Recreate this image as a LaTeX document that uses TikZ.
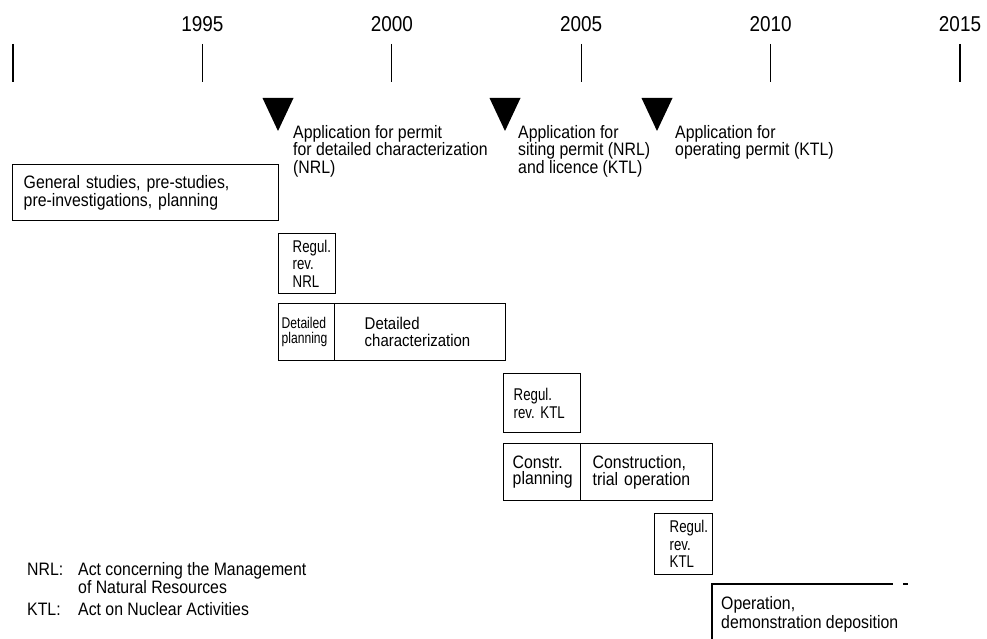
\documentclass[tikz,border=0pt]{standalone}
\usepackage{fontspec}
\setmainfont{Liberation Sans}
\newfontfamily\chartfont[FakeStretch=0.88]{Liberation Sans}
\newfontfamily\narrowfont[FakeStretch=0.78]{Liberation Sans}
\hyphenpenalty=10000
\exhyphenpenalty=10000
\hbadness=10000
\hfuzz=20pt
\frenchspacing

\begin{document}
\begin{tikzpicture}[x=1pt,y=-1pt,
  phase/.style={draw, line width=1.4pt, anchor=north west, inner xsep=0pt, inner ysep=0pt, align=left},
  maintxt/.style={font=\chartfont\fontsize{18}{16.5}\selectfont},
  smalltxt/.style={font=\narrowfont\fontsize{17}{17.5}\selectfont},
  apptxt/.style={anchor=north west, inner sep=0pt, align=left, font=\chartfont\fontsize{18}{17.5}\selectfont}]
\useasboundingbox (0,0) rectangle (987,639);

% time axis
\draw[line width=1.3pt] (13,44) -- (13,82);
\foreach \k/\yr in {1/1995,2/2000,3/2005,4/2010,5/2015}{
  \draw[line width=1.3pt] (13+189.4*\k,44) -- (13+189.4*\k,82);
  \node[anchor=base, inner sep=0pt, font=\chartfont\fontsize{21.5}{20}\selectfont] (yr\k) at (13+189.4*\k,32) {\yr};
}

% applications
\coordinate (m1) at (278,131);
\coordinate (m2) at (505,131);
\coordinate (m3) at (657,131);
\foreach \n in {1,2,3}
  \fill (m\n) -- ++(-15.5,-33) -- ++(31,0) -- cycle;
\node[apptxt] (app1) at (293,125) {Application for permit\\for detailed characterization\\(NRL)};
\node[apptxt] (app2) at (518,125) {Application for\\siting permit (NRL)\\and licence (KTL)};
\node[apptxt] (app3) at (675,125) {Application for\\operating permit (KTL)};

% phases
\node[phase, maintxt, minimum width=266pt, minimum height=56pt, text width=244pt] (general) at (12,164) {General studies, pre-studies,\\pre-investigations, planning};
\node[phase, smalltxt, minimum width=57pt, minimum height=60pt, text width=29pt] (nrlrev) at (278,233) {Regul.\\rev.\\NRL};
\node[phase, font=\narrowfont\fontsize{15.5}{15}\selectfont, minimum width=56pt, minimum height=57pt, text width=50pt] (detplan) at (278,303) {Detailed\\planning};
\node[phase, font=\chartfont\fontsize{17}{17}\selectfont, minimum width=171pt, minimum height=57pt, text width=111pt] (detchar) at (334,303) {Detailed\\characterization};
\node[phase, smalltxt, minimum width=77pt, minimum height=59pt, text width=57pt] (ktlrev) at (503,373) {Regul.\\rev. KTL};
\node[phase, maintxt, minimum width=77pt, minimum height=57pt, text width=59pt] (conplan) at (503,443) {Constr.\\planning};
\node[phase, maintxt, minimum width=132pt, minimum height=57pt, text width=108pt] (constr) at (580,443) {Construction,\\trial operation};
\node[phase, smalltxt, minimum width=58pt, minimum height=61pt, text width=28pt] (ktlrev2) at (654,513) {Regul.\\rev.\\KTL};

% operation (open box)
\coordinate (opcorner) at (712,584);
\draw[line width=1.4pt] (712,639) -- (opcorner) -- (893,584);
\draw[line width=1.4pt] (903,584) -- (908,584);
\node[apptxt, font=\chartfont\fontsize{18}{19.5}\selectfont] (oper) at (721,596) {Operation,\\demonstration deposition};

% legend
\node[anchor=base west, inner sep=0pt, maintxt] (nrlkey) at (27,575) {NRL:};
\node[anchor=north west, inner sep=0pt, align=left, font=\chartfont\fontsize{18}{15}\selectfont] (nrldef) at (78,562) {Act concerning the Management\\of Natural Resources};
\node[anchor=base west, inner sep=0pt, maintxt] (ktlkey) at (27,615) {KTL:};
\node[anchor=base west, inner sep=0pt, maintxt] (ktldef) at (78,615) {Act on Nuclear Activities};
\end{tikzpicture}
\end{document}
